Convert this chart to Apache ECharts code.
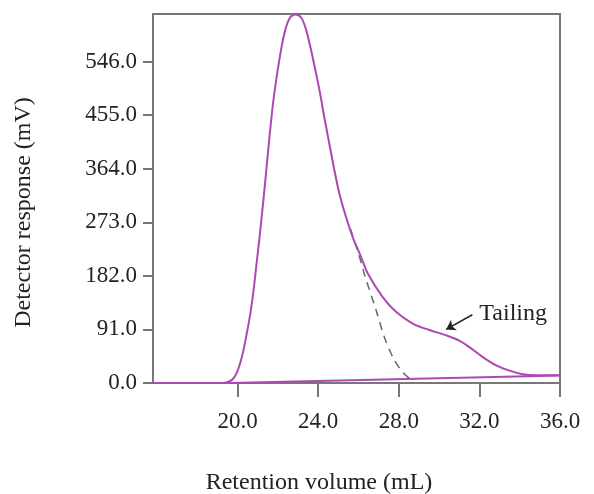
<!DOCTYPE html>
<html>
<head>
  <meta charset="UTF-8">
  <title>Retention curve</title>
  <style>html, body { margin: 0; padding: 0; background: #fff; }</style>
</head>
<body>
  <div id="chart" style="width: 594px; height: 494px;"></div>
  <script src="https://cdn.jsdelivr.net/npm/echarts@6/dist/echarts.min.js"></script>
  <script>
    // detector trace (mL, mV)
    const mainX = [15.8, 19.0, 19.43, 19.84, 20.17, 20.42, 20.63, 20.8, 20.94, 21.08, 21.33, 21.49, 21.66, 21.82,
      22.07, 22.32, 22.57, 22.87, 23.15, 23.4, 23.72, 24.06, 24.3, 24.55, 24.8, 25.05, 25.38, 25.71, 26.13,
      26.46, 27.2, 27.86, 28.69, 29.52, 30.35, 31.0, 31.5, 32.17, 32.83, 33.49, 34.15, 34.8, 36.0];
    const mainY = [0, 0, 1, 10, 39, 78, 118, 160, 203, 245, 328, 386, 445, 492,
      549, 594, 619, 626, 621, 600, 554, 498, 452, 407, 362, 322, 282, 248, 214,
      186, 146, 121, 101, 90, 81, 72, 61, 44, 30, 21, 15, 13, 13];
    // ideal peak without tailing (dashed)
    const idealX = [25.6, 26.0, 26.3, 26.87, 27.28, 27.7, 28.11, 28.53];
    const idealY = [262, 220, 184, 124, 78, 44, 21.6, 7.5];
    // drifting baseline
    const baseX = [19.6, 36.0];
    const baseY = [0, 12.8];

    const yTicks = [0, 91, 182, 273, 364, 455, 546];
    const xTicks = [20, 24, 28, 32, 36];

    const zip = (xs, ys) => xs.map((x, i) => [x, ys[i]]);
    const font = "'Liberation Serif', 'Times New Roman', serif";
    const axisGray = '#777';
    const purple = '#ad48b3';

    const myChart = echarts.init(document.getElementById('chart'));
    const option = {
      animation: false,
      grid: {
        left: 153, right: 34, top: 14, bottom: 111,
        outerBoundsMode: 'none',
        containLabel: false,
        show: true, borderColor: axisGray, borderWidth: 2
      },
      xAxis: {
        type: 'value',
        min: 15.8,
        max: 36,
        name: 'Retention volume (mL)',
        nameLocation: 'middle',
        nameGap: 88,
        nameTextStyle: { fontFamily: font, fontSize: 24, color: '#222', padding: [0, 75, 0, 0] },
        axisLine: { show: true, lineStyle: { color: axisGray, width: 2 } },
        axisTick: { show: true, length: 14, customValues: xTicks, lineStyle: { color: axisGray, width: 2 } },
        axisLabel: {
          customValues: xTicks, margin: 27,
          fontFamily: font, fontSize: 23, color: '#222',
          formatter: v => v.toFixed(1)
        },
        splitLine: { show: false }
      },
      yAxis: {
        type: 'value',
        min: 0,
        max: 627,
        name: 'Detector response (mV)',
        nameLocation: 'middle',
        nameRotate: 90,
        nameGap: 117,
        nameTextStyle: { fontFamily: font, fontSize: 24, color: '#222', padding: [0, 28, 0, 0] },
        axisLine: { show: true, lineStyle: { color: axisGray, width: 2 } },
        axisTick: { show: true, length: 10, customValues: yTicks, lineStyle: { color: axisGray, width: 2 } },
        axisLabel: {
          customValues: yTicks, margin: 16,
          fontFamily: font, fontSize: 23, color: '#222',
          formatter: v => v.toFixed(1)
        },
        splitLine: { show: false }
      },
      series: [{
        name: 'baseline',
        type: 'line',
        data: zip(baseX, baseY),
        symbol: 'none',
        lineStyle: { color: purple, width: 2 }
      }, {
        name: 'ideal',
        type: 'line',
        data: zip(idealX, idealY),
        symbol: 'none',
        smooth: 0.3,
        lineStyle: { color: '#666', width: 1.5, type: [8, 6] }
      }, {
        name: 'trace',
        type: 'line',
        data: zip(mainX, mainY),
        symbol: 'none',
        smooth: 0.35,
        lineStyle: { color: purple, width: 2 },
        markLine: {
          silent: true,
          symbol: ['none', 'arrow'],
          symbolSize: 9,
          lineStyle: { color: '#222', width: 1.5, type: 'solid' },
          label: { show: false },
          data: [[{ coord: [31.65, 116] }, { coord: [30.35, 91] }]]
        },
        markPoint: {
          silent: true,
          symbol: 'circle',
          symbolSize: 0,
          label: {
            show: true, position: 'right', distance: 5,
            fontFamily: font, fontSize: 24, color: '#222',
            formatter: 'Tailing'
          },
          data: [{ coord: [31.75, 118] }]
        }
      }]
    };
    myChart.setOption(option);
  </script>
</body>
</html>
